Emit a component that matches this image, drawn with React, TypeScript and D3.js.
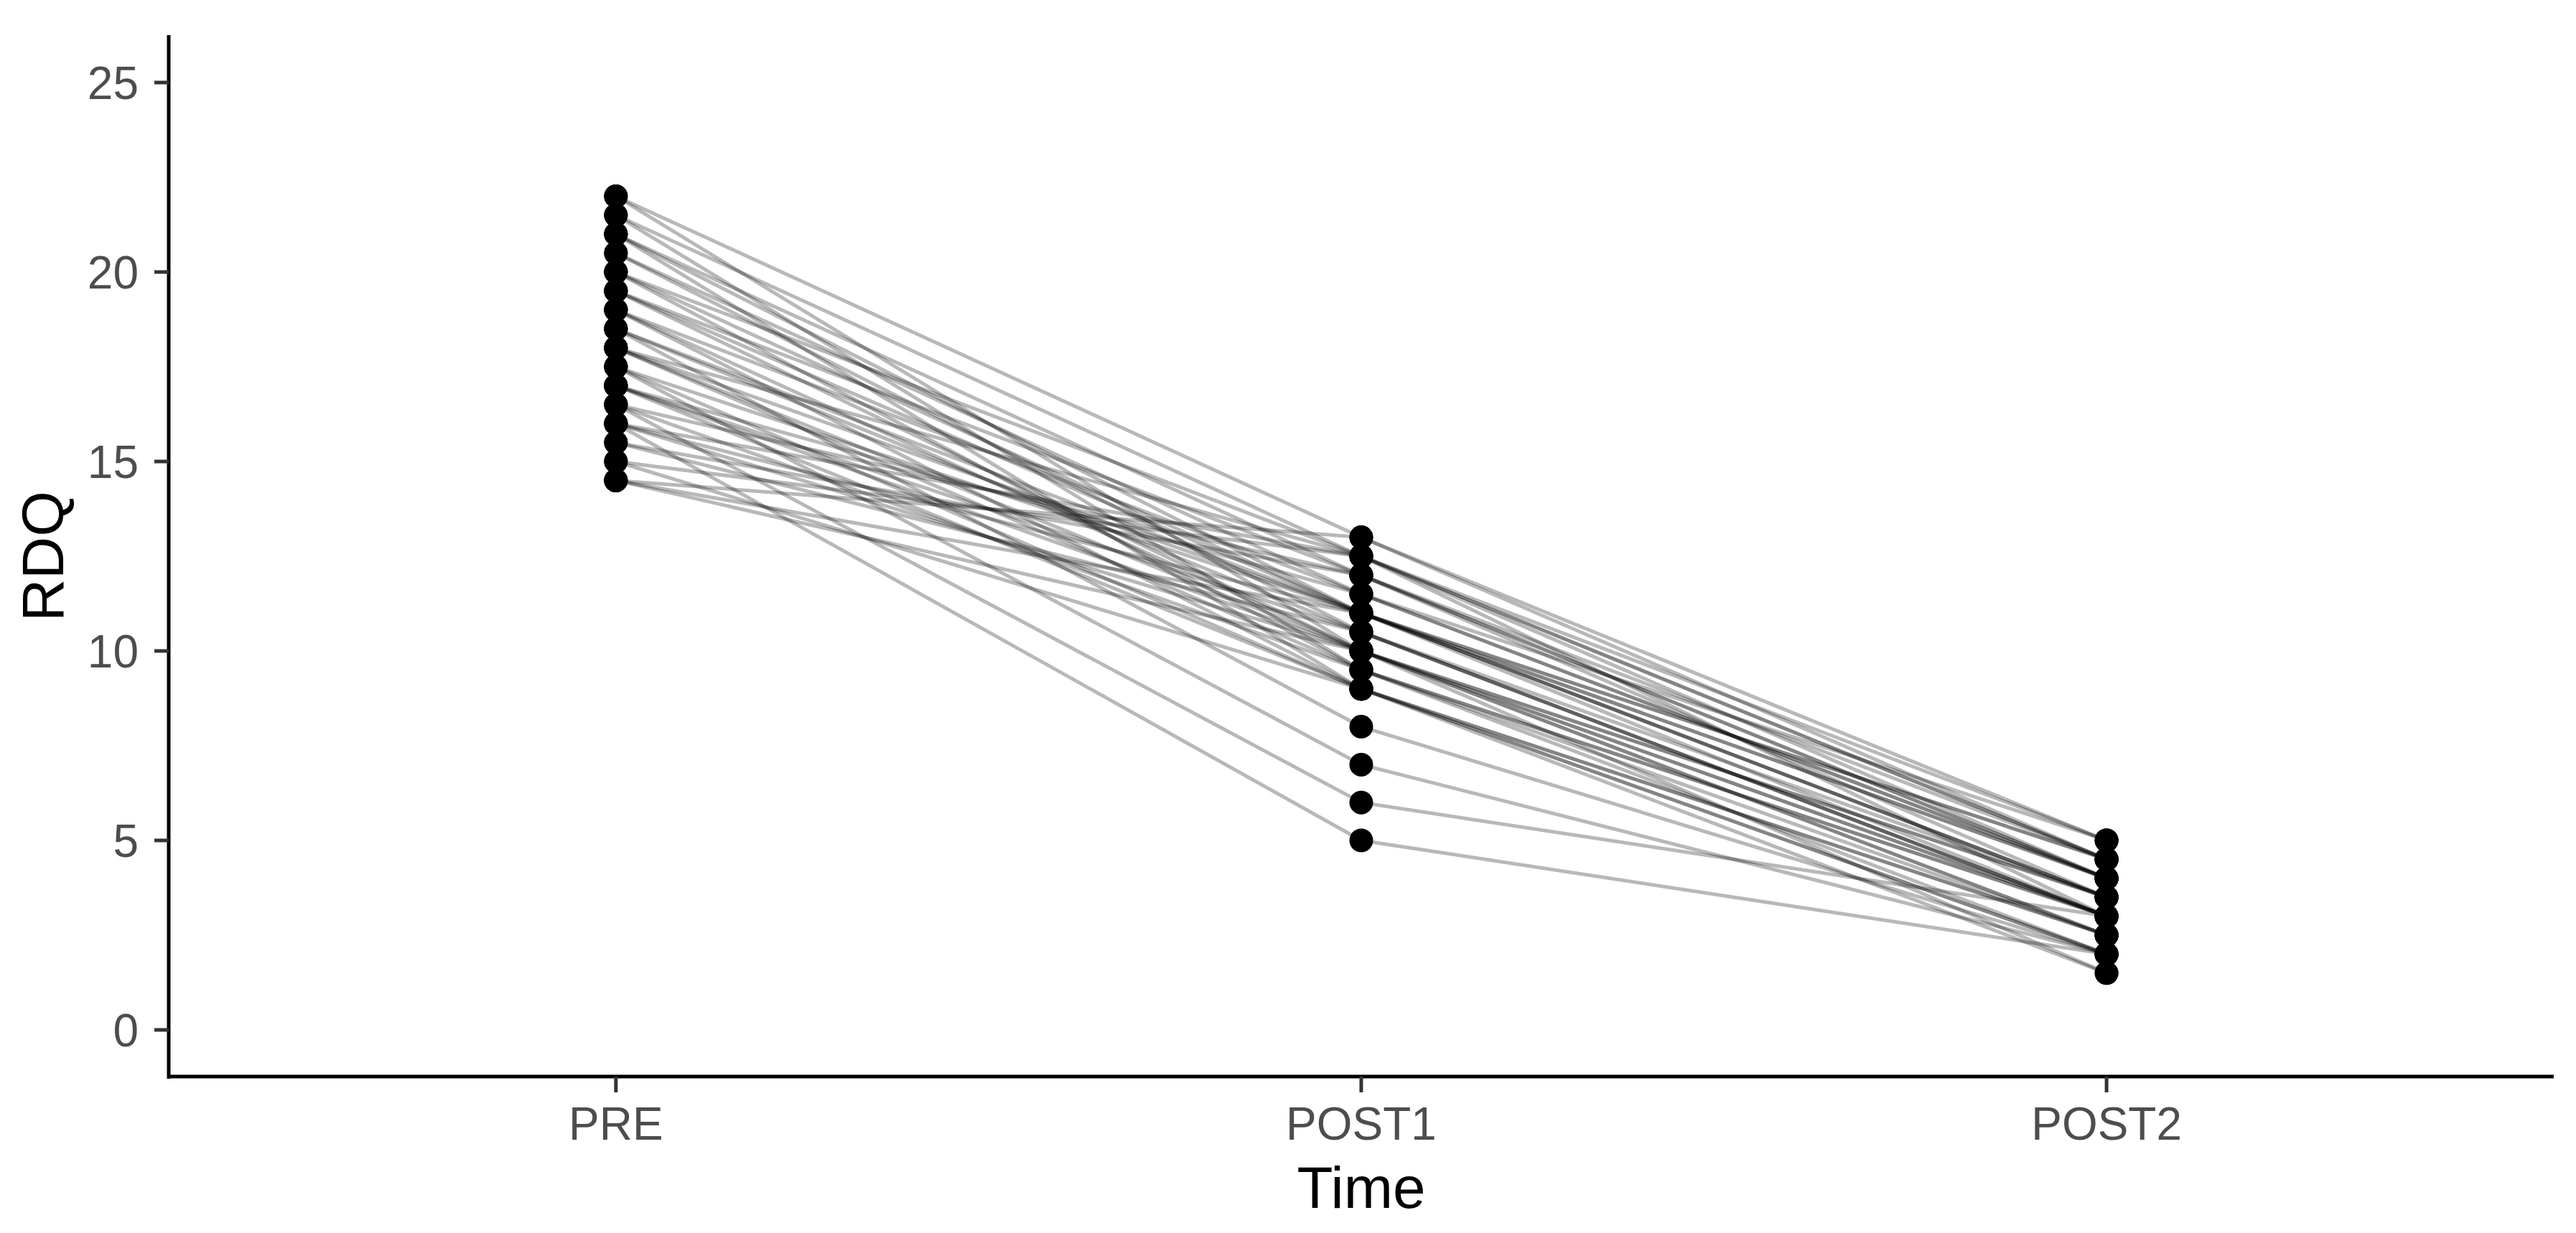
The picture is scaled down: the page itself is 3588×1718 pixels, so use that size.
import React from "react";
import * as d3 from "d3";

const timeLabels = ["PRE", "POST1", "POST2"];
const yTicks = [0, 5, 10, 15, 20, 25];

// One entry per subject, same order across arrays
const preValues = [22, 22, 21.5, 21.5, 21, 21, 20.5, 20.5, 20, 20, 19.5, 19.5, 19, 19, 19, 18.5, 18.5, 18.5, 18, 18, 18, 17.5, 17.5, 17.5, 17, 17, 17, 16.5, 16.5, 16.5, 16, 16, 16, 15.5, 15.5, 15, 15, 14.5, 14.5, 14.5, 20, 18, 17, 19.5, 16, 21];
const post1Values = [13, 10, 12.5, 9.5, 12, 9, 11.5, 10.5, 11, 9.5, 12, 10, 11.5, 10, 9, 11, 10.5, 8, 12.5, 10, 9.5, 11, 9, 7, 11.5, 10.5, 9, 12, 9.5, 6, 11, 10, 5, 12, 10.5, 12.5, 9, 13, 11, 10, 12.5, 11, 10, 11, 12.5, 11];
const post2Values = [5, 3.5, 4.5, 3, 4, 2.5, 4, 3, 4.5, 3, 3.5, 2.5, 5, 3, 2, 4, 3.5, 2, 4.5, 3, 2.5, 3.5, 2.5, 2, 4, 3, 1.5, 4.5, 2, 3, 3.5, 2.5, 2, 4, 3, 5, 2, 4.5, 3.5, 1.5, 4, 4, 3.5, 3, 3, 4.5];

const W = 3588;
const H = 1718;
const left = 235;
const right = 3557;
const top = 49;
const bottom = 1501;

export default function App() {
  const x = d3.scalePoint<string>().domain(timeLabels).range([left, right]).padding(0.6);
  const y = d3.scaleLinear().domain([-1.25, 26.25]).range([bottom, top]);

  const subjects = preValues.map((p, i) => [
    { t: "PRE", v: p },
    { t: "POST1", v: post1Values[i] },
    { t: "POST2", v: post2Values[i] },
  ]);

  const line = d3
    .line<{ t: string; v: number }>()
    .x((d) => x(d.t) as number)
    .y((d) => y(d.v));

  const font = "'Liberation Sans', Arial, Helvetica, sans-serif";

  return (
    <svg
      width={W}
      height={H}
      style={{ position: "absolute", left: 0, top: 0, background: "#fff" }}
      fontFamily={font}
    >
      <rect x={0} y={0} width={W} height={H} fill="#fff" />
      {subjects.map((s, i) => (
        <path key={"l" + i} d={line(s) as string} fill="none" stroke="#000" strokeOpacity={0.28} strokeWidth={5} />
      ))}
      {subjects.map((s, i) =>
        s.map((d, j) => (
          <circle key={"p" + i + "-" + j} cx={x(d.t) as number} cy={y(d.v)} r={16.5} fill="#000" />
        ))
      )}
      {/* axes */}
      <line x1={left} x2={left} y1={top} y2={bottom + 2} stroke="#000" strokeWidth={5} />
      <line x1={left - 2} x2={right} y1={bottom - 1} y2={bottom - 1} stroke="#000" strokeWidth={5} />
      {yTicks.map((t) => (
        <g key={"yt" + t}>
          <line x1={left - 20} x2={left} y1={y(t)} y2={y(t)} stroke="#333" strokeWidth={5} />
          <text x={left - 42} y={y(t)} dy="0.36em" textAnchor="end" fontSize={64} fill="#4d4d4d">
            {t}
          </text>
        </g>
      ))}
      {timeLabels.map((t) => (
        <g key={"xt" + t}>
          <line x1={x(t) as number} x2={x(t) as number} y1={bottom - 1} y2={bottom + 21} stroke="#333" strokeWidth={5} />
          <text x={x(t) as number} y={1588} textAnchor="middle" fontSize={64} fill="#4d4d4d">
            {t}
          </text>
        </g>
      ))}
      <text x={(left + right) / 2} y={1683} textAnchor="middle" fontSize={82} fill="#000">
        Time
      </text>
      <text
        transform={`translate(88, ${(top + bottom) / 2}) rotate(-90)`}
        textAnchor="middle"
        fontSize={82}
        fill="#000"
      >
        RDQ
      </text>
    </svg>
  );
}
